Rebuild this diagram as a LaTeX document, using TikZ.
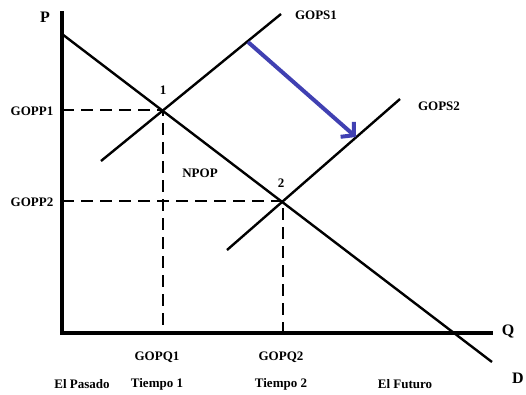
\documentclass[tikz,border=0pt]{standalone}
\usepackage{fontspec}
\setmainfont{Liberation Serif}
\usetikzlibrary{arrows.meta}
\definecolor{shiftblue}{RGB}{64,64,178}
\begin{document}
\begin{tikzpicture}[x=1pt,y=-1pt,
  lbl/.style={font=\bfseries\fontsize{13}{15}\selectfont, inner sep=0pt},
  axislbl/.style={font=\bfseries\fontsize{16}{18}\selectfont, inner sep=0pt},
  curve/.style={line width=2.4pt},
  guide/.style={line width=1.6pt, dash pattern=on 12pt off 7pt},
  axisline/.style={line width=4.5pt},
  shiftarrow/.style={line width=4pt, draw=shiftblue, -{Straight Barb[length=9pt,width=20pt]}}]
\useasboundingbox (0,0) rectangle (526,394);
% coordinates
\coordinate (ytop) at (62,11);
\coordinate (origin) at (62,333);
\coordinate (xend) at (493,333);
\coordinate (dstart) at (62,34);
\coordinate (dend) at (492,362);
\coordinate (s1start) at (101,161);
\coordinate (s1end) at (281,14);
\coordinate (s2start) at (227,250);
\coordinate (s2end) at (400,99);
\coordinate (eq1) at (163,110);
\coordinate (eq2) at (283,201);
\coordinate (p1) at (62,110);
\coordinate (p2) at (62,201);
\coordinate (q1) at (163,333);
\coordinate (q2) at (283,333);
\coordinate (arrfrom) at (248,42);
\coordinate (arrto) at (356,137);
% guides
\draw[guide] (p1) -- (eq1) -- (q1);
\draw[guide] (p2) -- (eq2) -- (q2);
% curves
\draw[curve] (dstart) -- (dend);
\draw[curve] (s1start) -- (s1end);
\draw[curve] (s2start) -- (s2end);
% axes
\draw[axisline, line join=miter] (ytop) -- (origin) -- (xend);
% shift arrow
\draw[shiftarrow] (arrfrom) -- (arrto);
% labels
\node[axislbl] (lP) at (45,17) {P};
\node[axislbl] (lQ) at (508,331) {Q};
\node[axislbl] (lD) at (518,378) {D};
\node[lbl] (lgopp1) at (32,111) {GOPP1};
\node[lbl] (lgopp2) at (32,202) {GOPP2};
\node[lbl] (l1) at (163,90) {1};
\node[lbl] (l2) at (281,183) {2};
\node[lbl] (lnpop) at (200,173) {NPOP};
\node[lbl] (lgops1) at (316,15) {GOPS1};
\node[lbl] (lgops2) at (439,106) {GOPS2};
\node[lbl] (lgopq1) at (157,357) {GOPQ1};
\node[lbl] (lgopq2) at (281,357) {GOPQ2};
\node[lbl] (lpasado) at (82,384) {El Pasado};
\node[lbl] (lt1) at (157,384) {Tiempo 1};
\node[lbl] (lt2) at (281,384) {Tiempo 2};
\node[lbl] (lfuturo) at (405,384) {El Futuro};
\end{tikzpicture}
\end{document}
